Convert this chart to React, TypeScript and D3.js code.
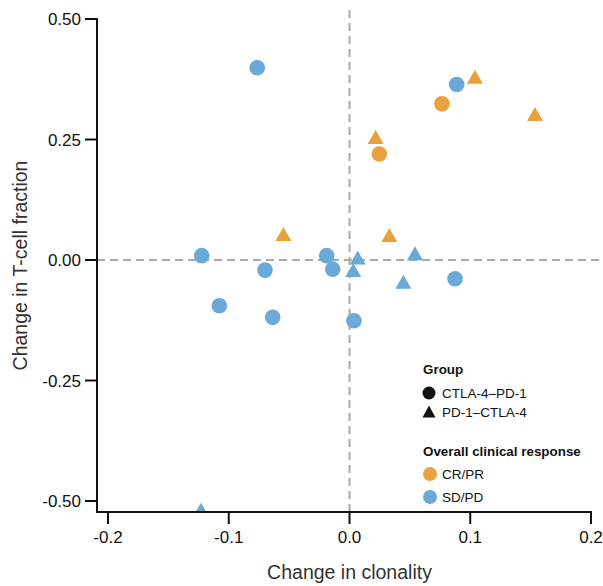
import React from "react";
import * as d3 from "d3";

const xTicks = [-0.2, -0.1, 0.0, 0.1, 0.2];
const xTickLabels = ["-0.2", "-0.1", "0.0", "0.1", "0.2"];
const yTicks = [0.5, 0.25, 0.0, -0.25, -0.5];
const yTickLabels = ["0.50", "0.25", "0.00", "-0.25", "-0.50"];

// CTLA-4–PD-1 (circles), SD/PD
const circSDx = [-0.0764, 0.0888, -0.1224, -0.0189, -0.070, -0.0139, 0.0874, -0.1078, -0.0636, 0.0037];
const circSDy = [0.399, 0.364, 0.009, 0.009, -0.021, -0.019, -0.039, -0.095, -0.119, -0.126];
// CTLA-4–PD-1 (circles), CR/PR
const circCRx = [0.0766, 0.0247];
const circCRy = [0.324, 0.220];
// PD-1–CTLA-4 (triangles), CR/PR
const triCRx = [0.1039, 0.1536, 0.0217, -0.0548, 0.033];
const triCRy = [0.380, 0.303, 0.255, 0.054, 0.052];
// PD-1–CTLA-4 (triangles), SD/PD
const triSDx = [0.0068, 0.0542, 0.0031, 0.0446, -0.123];
const triSDy = [0.005, 0.014, -0.021, -0.045, -0.518];

const groupLabels = ["CTLA-4–PD-1", "PD-1–CTLA-4"];
const responseLabels = ["CR/PR", "SD/PD"];

const ORANGE = "#E9A23B";
const BLUE = "#6BAAD8";
const FONT = "'Liberation Sans', Arial, Helvetica, sans-serif";

const x = d3.scaleLinear().domain([-0.2, 0.2]).range([108, 591]);
const y = d3.scaleLinear().domain([-0.5, 0.5]).range([501, 19]);

const PANEL_LEFT = 97;
const PANEL_BOTTOM = 512;

const triPath = (cx: number, cy: number, w = 16, h = 14) =>
  `M${cx},${cy - h / 2}L${cx + w / 2},${cy + h / 2}L${cx - w / 2},${cy + h / 2}Z`;

export default function App() {
  return (
    <svg
      width={603}
      height={586}
      style={{ position: "absolute", left: 0, top: 0, display: "block", background: "#fff" }}
      fontFamily={FONT}
    >
      <defs>
        <clipPath id="panel">
          <rect x={PANEL_LEFT} y={0} width={603 - PANEL_LEFT} height={PANEL_BOTTOM} />
        </clipPath>
      </defs>
      {/* reference lines */}
      <line x1={x(0)} x2={x(0)} y1={10} y2={PANEL_BOTTOM} stroke="#aaa" strokeWidth={2} strokeDasharray="8,5" />
      <line x1={PANEL_LEFT} x2={600} y1={y(0)} y2={y(0)} stroke="#aaa" strokeWidth={2} strokeDasharray="8,5" />

      <g clipPath="url(#panel)">
        {circSDx.map((v, i) => (
          <circle key={"cs" + i} cx={x(v)} cy={y(circSDy[i])} r={7.8} fill={BLUE} />
        ))}
        {circCRx.map((v, i) => (
          <circle key={"cc" + i} cx={x(v)} cy={y(circCRy[i])} r={7.8} fill={ORANGE} />
        ))}
        {triCRx.map((v, i) => (
          <path key={"tc" + i} d={triPath(x(v), y(triCRy[i]))} fill={ORANGE} />
        ))}
        {triSDx.map((v, i) => (
          <path key={"ts" + i} d={triPath(x(v), y(triSDy[i]))} fill={BLUE} />
        ))}
      </g>

      {/* axes */}
      <line x1={PANEL_LEFT} x2={PANEL_LEFT} y1={y(0.5) - 1} y2={PANEL_BOTTOM + 1} stroke="#111" strokeWidth={2} />
      <line x1={PANEL_LEFT - 1} x2={x(0.2) + 1} y1={PANEL_BOTTOM} y2={PANEL_BOTTOM} stroke="#111" strokeWidth={2} />
      {yTicks.map((t, i) => (
        <g key={"yt" + i}>
          <line x1={PANEL_LEFT - 12} x2={PANEL_LEFT} y1={y(t)} y2={y(t)} stroke="#111" strokeWidth={2} />
          <text x={81} y={y(t)} dy="0.36em" textAnchor="end" fontSize={17} fill="#111">
            {yTickLabels[i]}
          </text>
        </g>
      ))}
      {xTicks.map((t, i) => (
        <g key={"xt" + i}>
          <line x1={x(t)} x2={x(t)} y1={PANEL_BOTTOM} y2={PANEL_BOTTOM + 12} stroke="#111" strokeWidth={2} />
          <text x={x(t)} y={543} textAnchor="middle" fontSize={17} fill="#111">
            {xTickLabels[i]}
          </text>
        </g>
      ))}
      <text x={(x(-0.2) + x(0.2)) / 2} y={579} textAnchor="middle" fontSize={19.5} fill="#333">
        Change in clonality
      </text>
      <text
        transform={`translate(27,${(y(0.5) + PANEL_BOTTOM) / 2}) rotate(-90)`}
        textAnchor="middle"
        fontSize={19.5}
        fill="#333"
      >
        Change in T-cell fraction
      </text>

      {/* legend */}
      <text x={423} y={374} fontSize={13.4} fontWeight="bold" fill="#111">Group</text>
      <circle cx={429} cy={393} r={6.5} fill="#111" />
      <text x={442} y={398} fontSize={13.5} fill="#111">{groupLabels[0]}</text>
      <path d={triPath(429, 411.5, 13, 12)} fill="#111" />
      <text x={442} y={417} fontSize={13.5} fill="#111">{groupLabels[1]}</text>

      <text x={423} y={456} fontSize={13.4} fontWeight="bold" fill="#111">Overall clinical response</text>
      <circle cx={430} cy={474} r={7} fill={ORANGE} />
      <text x={442} y={479} fontSize={13.5} fill="#111">{responseLabels[0]}</text>
      <circle cx={430} cy={497} r={7} fill={BLUE} />
      <text x={442} y={502} fontSize={13.5} fill="#111">{responseLabels[1]}</text>
    </svg>
  );
}
